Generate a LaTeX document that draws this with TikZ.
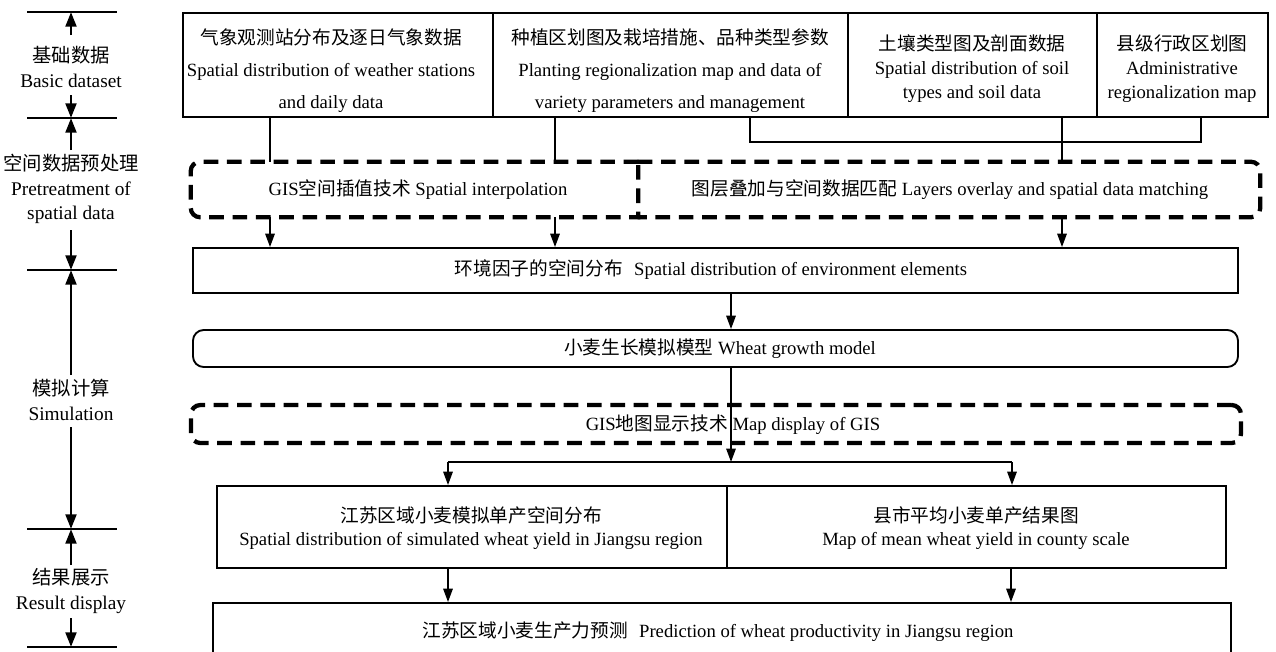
\documentclass[tikz,border=0pt]{standalone}
\usepackage{fontspec}
\setmainfont{Liberation Serif}
\newfontfamily\cjk{Noto Sans CJK SC}
\usetikzlibrary{arrows.meta,fit}
\newcommand{\zh}[1]{{\cjk #1}}
\begin{document}
\begin{tikzpicture}[x=0.75pt,y=-0.75pt,
  every node/.style={font=\fontsize{14}{18}\selectfont},
  box/.style={draw, line width=1.4pt, inner sep=0pt, align=center},
  dbox/.style={draw, line width=3.2pt, dash pattern=on 11pt off 6.5pt, rounded corners=7pt, inner sep=0pt},
  dnode/.style={inner sep=0pt},
  dline/.style={line width=3.2pt, dash pattern=on 11pt off 6.5pt},
  conn/.style={line width=1.4pt},
  arr/.style={line width=1.4pt, -{Triangle[length=10pt,width=7pt]}},
  larr/.style={line width=2.2pt, -{Triangle[length=11pt,width=8pt]}},
  tickline/.style={line width=1.6pt},
  lab/.style={align=center, font=\fontsize{14.5}{18.5}\selectfont, inner sep=0pt},
]
\useasboundingbox (0,0) rectangle (1276,651);
\clip (0,0) rectangle (1276,651);

% ---------- left column ----------
\foreach \yy in {12,118,270,529,647} \draw[tickline] (27,\yy) -- (117,\yy);
\coordinate (t1) at (71,12);
\coordinate (t2) at (71,118);
\coordinate (t3) at (71,270);
\coordinate (t4) at (71,529);
\coordinate (t5) at (71,647);
\node[lab] (L1) at (71,67) {\zh{基础数据}\\Basic dataset};
\node[lab] (L2) at (71,189) {\zh{空间数据预处理}\\Pretreatment of\\spatial data};
\node[lab] (L3) at (71,400) {\zh{模拟计算}\\Simulation};
\node[lab] (L4) at (71,591) {\zh{结果展示}\\Result display};
\coordinate (a1) at (71,35);  \coordinate (a2) at (71,95);
\coordinate (a3) at (71,150); \coordinate (a4) at (71,230);
\coordinate (a5) at (71,375); \coordinate (a6) at (71,427);
\coordinate (a7) at (71,565); \coordinate (a8) at (71,618);
\draw[larr] (a1) -- (t1);
\draw[larr] (a2) -- (t2);
\draw[larr] (a3) -- (t2);
\draw[larr] (a4) -- (t3);
\draw[larr] (a5) -- (t3);
\draw[larr] (a6) -- (t4);
\draw[larr] (a7) -- (t4);
\draw[larr] (a8) -- (t5);

% ---------- top boxes ----------
\node[box, fit={(183,13) (493,117)}] (b1) {};
\node[align=center, font=\fontsize{14}{24}\selectfont, inner sep=0pt] (b1t) at (331,71) {\zh{气象观测站分布及逐日气象数据}\\Spatial distribution of weather stations\\and daily data};
\node[box, fit={(493,13) (848,117)}] (b2) {};
\node[align=center, font=\fontsize{14}{24}\selectfont, inner sep=0pt] (b2t) at (670,71) {\zh{种植区划图及栽培措施、品种类型参数}\\Planting regionalization map and data of\\variety parameters and management};
\node[box, fit={(848,13) (1097,117)}] (b3) {};
\node[align=center, font=\fontsize{14}{18}\selectfont, inner sep=0pt] (b3t) at (972,69) {\zh{土壤类型图及剖面数据}\\Spatial distribution of soil\\types and soil data};
\node[box, fit={(1097,13) (1268,117)}] (b4) {};
\node[align=center, font=\fontsize{14}{18}\selectfont, inner sep=0pt] (b4t) at (1182,69) {\zh{县级行政区划图}\\Administrative\\regionalization map};

% ---------- dashed pretreatment boxes ----------
\node[dnode, fit={(191,162) (638,217)}] (dA) {};
\draw[dline] (dA.north east) [rounded corners=7pt] -- (dA.north west) -- (dA.south west) [sharp corners] -- (dA.south east) -- cycle;
\node[inner sep=0pt] (dAt) at (418,190) {GIS\zh{空间插值技术} Spatial interpolation};
\node[dnode, fit={(638,162) (1260,217)}] (dB) {};
\draw[dline] (dB.north west) [rounded corners=7pt] -- (dB.north east) -- (dB.south east) [sharp corners] -- (dB.south west);
\node[inner sep=0pt] (dBt) at (950,190) {\zh{图层叠加与空间数据匹配} Layers overlay and spatial data matching};

% connectors top -> dashed
\draw[conn] (270,0 |- b1.south) -- (270,0 |- dA.north);
\draw[conn] (555,0 |- b2.south) -- (555,0 |- dA.north);
\coordinate (busL) at (750,142);
\coordinate (busR) at (1201,142);
\draw[conn] (750,0 |- b2.south) -- (busL) -- (busR) -- (1201,0 |- b4.south);
\draw[conn] (1062,0 |- b3.south) -- (1062,0 |- dB.north);

% ---------- environment ----------
\node[box, fit={(193,248) (1238,293)}] (env) {};
\node[inner sep=0pt] (envt) at (711,270) {\zh{环境因子的空间分布}\hspace{0.6em}Spatial distribution of environment elements};
\draw[arr] (270,0 |- dA.south) -- (270,0 |- env.north);
\draw[arr] (555,0 |- dA.south) -- (555,0 |- env.north);
\draw[arr] (1062,0 |- dB.south) -- (1062,0 |- env.north);

% ---------- wheat model ----------
\node[box, rounded corners=8pt, fit={(193,330) (1238,367)}] (wm) {};
\node[inner sep=0pt] (wmt) at (720,349) {\zh{小麦生长模拟模型} Wheat growth model};
\draw[arr] (731,0 |- env.south) -- (731,0 |- wm.north);

% ---------- GIS display ----------
\node[dbox, fit={(191,405) (1241,443)}] (gis) {};
\node[inner sep=0pt] (gist) at (733,425) {GIS\zh{地图显示技术} Map display of GIS};

% ---------- results ----------
\node[box, fit={(217,486) (727,568)}] (rl) {};
\node[align=center, font=\fontsize{14}{17.25}\selectfont, inner sep=0pt] (rlt) at (471,528) {\zh{江苏区域小麦模拟单产空间分布}\\Spatial distribution of simulated wheat yield in Jiangsu region};
\node[box, fit={(727,486) (1226,568)}] (rr) {};
\node[align=center, font=\fontsize{14}{17.25}\selectfont, inner sep=0pt] (rrt) at (976,528) {\zh{县市平均小麦单产结果图}\\Map of mean wheat yield in county scale};

\coordinate (jc) at (731,462);
\coordinate (jl) at (448,462);
\coordinate (jr) at (1012,462);
\draw[arr] (731,0 |- wm.south) -- (jc);
\draw[conn] (jl) -- (jr);
\draw[arr] (jl) -- (448,0 |- rl.north);
\draw[arr] (jr) -- (1012,0 |- rr.north);

% ---------- bottom ----------
\node[box, fit={(213,603) (1231,661)}] (pred) {};
\node[inner sep=0pt] (predt) at (718,632) {\zh{江苏区域小麦生产力预测}\hspace{0.6em}Prediction of wheat productivity in Jiangsu region};
\draw[arr] (448,0 |- rl.south) -- (448,0 |- pred.north);
\draw[arr] (1011,0 |- rr.south) -- (1011,0 |- pred.north);
\end{tikzpicture}
\end{document}
